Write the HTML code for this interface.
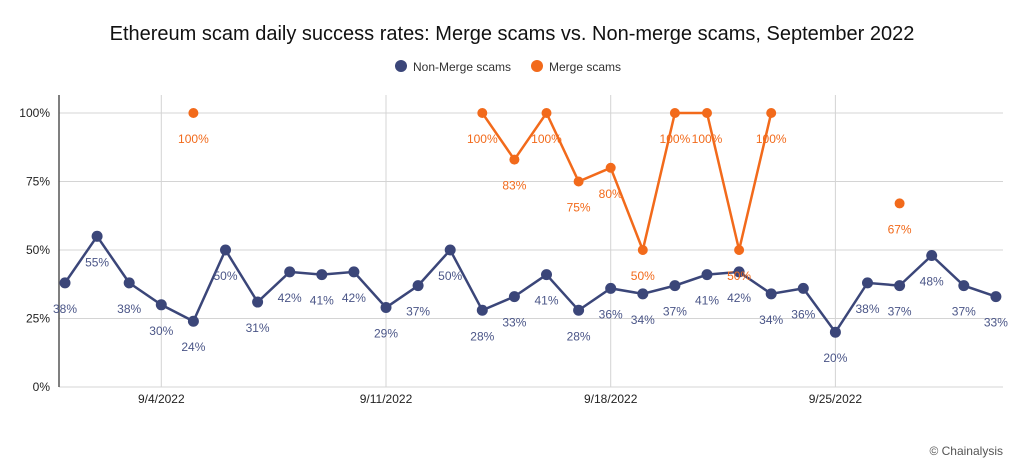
<!DOCTYPE html><html><head><meta charset="utf-8"><style>
body{margin:0;background:#fff;width:1024px;height:466px;overflow:hidden;font-family:"Liberation Sans",sans-serif}
</style></head><body>
<svg id="s" width="1024" height="466" xmlns="http://www.w3.org/2000/svg" font-family="Liberation Sans, sans-serif"></svg>
<script>
const s=document.getElementById('s');let h='';
const X=d=>65+(d-1)*32.1, Y=v=>387-v*2.74;
h+='<text x="512" y="40" text-anchor="middle" font-size="20" fill="#111">Ethereum scam daily success rates: Merge scams vs. Non-merge scams, September 2022</text>';
h+='<circle cx="401" cy="66" r="6" fill="#3b4679"/><text x="413" y="71" font-size="12" fill="#333">Non-Merge scams</text>';
h+='<circle cx="537" cy="66" r="6" fill="#f26a1b"/><text x="549" y="71" font-size="12" fill="#333">Merge scams</text>';
[0,25,50,75,100].forEach(v=>{h+=`<line x1="59" x2="1003" y1="${Y(v)}" y2="${Y(v)}" stroke="#d4d4d4"/><text x="50" y="${Y(v)+4}" text-anchor="end" font-size="12" fill="#222">${v}%</text>`;});
[[4,'9/4/2022'],[11,'9/11/2022'],[18,'9/18/2022'],[25,'9/25/2022']].forEach(([d,t])=>{h+=`<line x1="${X(d)}" x2="${X(d)}" y1="95" y2="387" stroke="#d4d4d4"/><text x="${X(d)}" y="403" text-anchor="middle" font-size="12" fill="#222">${t}</text>`;});
h+='<line x1="59" x2="59" y1="95" y2="387" stroke="#555" stroke-width="1.5"/>';
const n=[38,55,38,30,24,50,31,42,41,42,29,37,50,28,33,41,28,36,34,37,41,42,34,36,20,38,37,48,37,33];
const m={5:100,14:100,15:83,16:100,17:75,18:80,19:50,20:100,21:100,22:50,23:100,27:67};
let p=n.map((v,i)=>X(i+1)+','+Y(v)).join(' ');
h+=`<polyline points="${p}" fill="none" stroke="#3b4679" stroke-width="2.5"/>`;
n.forEach((v,i)=>{h+=`<circle cx="${X(i+1)}" cy="${Y(v)}" r="5.5" fill="#3b4679"/><text x="${X(i+1)}" y="${Y(v)+30}" text-anchor="middle" font-size="12" fill="#4a5587">${v}%</text>`;});
let mp=[];for(let d=14;d<=23;d++)mp.push(X(d)+','+Y(m[d]));
h+=`<polyline points="${mp.join(' ')}" fill="none" stroke="#f26a1b" stroke-width="2.5"/>`;
for(const d in m){h+=`<circle cx="${X(+d)}" cy="${Y(m[d])}" r="5" fill="#f26a1b"/><text x="${X(+d)}" y="${Y(m[d])+30}" text-anchor="middle" font-size="12" fill="#f26a1b">${m[d]}%</text>`;}
h+='<text x="1003" y="455" text-anchor="end" font-size="12" fill="#555">© Chainalysis</text>';
s.innerHTML=h;
</script></body></html>
